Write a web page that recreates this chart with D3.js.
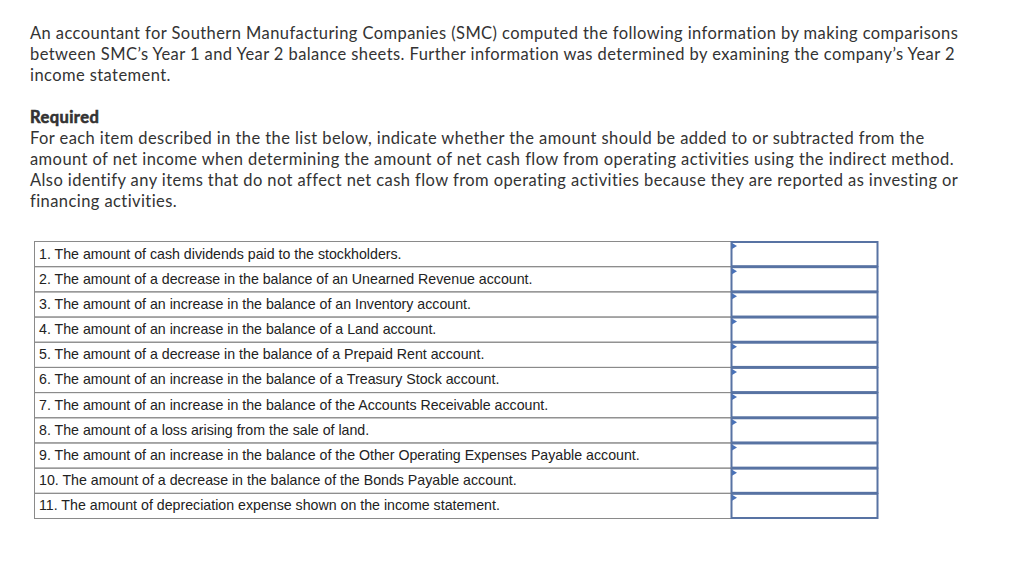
<!DOCTYPE html>
<html><head><meta charset="utf-8">
<script src="https://cdn.jsdelivr.net/npm/d3@7"></script>
<style>body{margin:0;background:#fff}</style>
</head><body><svg id="c" width="1024" height="563"></svg>
<script>
const introLines = [
  "An accountant for Southern Manufacturing Companies (SMC) computed the following information by making comparisons",
  "between SMC\u2019s Year 1 and Year 2 balance sheets. Further information was determined by examining the company\u2019s Year 2",
  "income statement."
];
const requiredTitle = "Required";
const requiredLines = [
  "For each item described in the the list below, indicate whether the amount should be added to or subtracted from the",
  "amount of net income when determining the amount of net cash flow from operating activities using the indirect method.",
  "Also identify any items that do not affect net cash flow from operating activities because they are reported as investing or",
  "financing activities."
];
const items = [
  "1. The amount of cash dividends paid to the stockholders.",
  "2. The amount of a decrease in the balance of an Unearned Revenue account.",
  "3. The amount of an increase in the balance of an Inventory account.",
  "4. The amount of an increase in the balance of a Land account.",
  "5. The amount of a decrease in the balance of a Prepaid Rent account.",
  "6. The amount of an increase in the balance of a Treasury Stock account.",
  "7. The amount of an increase in the balance of the Accounts Receivable account.",
  "8. The amount of a loss arising from the sale of land.",
  "9. The amount of an increase in the balance of the Other Operating Expenses Payable account.",
  "10. The amount of a decrease in the balance of the Bonds Payable account.",
  "11. The amount of depreciation expense shown on the income statement."
];

const svg = d3.select("#c");
const textFont = "Lato, 'Open Sans', sans-serif";
const textColor = "#333";
const fs = 16.5, ls = 0.42;

svg.append("g").selectAll("text").data(introLines).join("text")
  .attr("x", 30).attr("y", (d,i)=>39 + i*21)
  .attr("font-family", textFont).attr("font-size", fs).attr("letter-spacing", ls).attr("fill", textColor)
  .text(d=>d);

svg.append("text").attr("x", 30).attr("y", 123)
  .attr("font-family", textFont).attr("font-size", fs).attr("letter-spacing", ls).attr("font-weight", "bold")
  .attr("fill", textColor).attr("stroke", textColor).attr("stroke-width", 0.6)
  .text(requiredTitle);

svg.append("g").selectAll("text").data(requiredLines).join("text")
  .attr("x", 30).attr("y", (d,i)=>144 + i*21)
  .attr("font-family", textFont).attr("font-size", fs).attr("letter-spacing", ls).attr("fill", textColor)
  .text(d=>d);

// table
const y = d3.scaleBand().domain(items.map((d,i)=>i)).range([241, 518]);
const x0 = 34, x1 = 731, x2 = 878;
const tg = svg.append("g");
const rows = tg.selectAll("g").data(items).join("g")
  .attr("transform", (d,i)=>`translate(0,${y(i)})`);

rows.append("rect").attr("x", x0+0.5).attr("y", 0.5).attr("width", x1-x0).attr("height", y.bandwidth())
  .attr("fill", "none").attr("stroke", "#8a8a8a").attr("stroke-width", 1);
rows.append("text").attr("x", x0+5).attr("y", y.bandwidth()/2 + 5)
  .attr("font-family", "'Liberation Sans', Arial, sans-serif").attr("font-size", 14.2).attr("fill", "#222")
  .text(d=>d);
// answer box
rows.append("rect").attr("x", x1+0.5).attr("y", 1).attr("width", x2-x1-1).attr("height", y.bandwidth()-1)
  .attr("fill", "#fff").attr("stroke", "#5873a3").attr("stroke-width", 2);
rows.append("path").attr("d", `M${x1+1},2 L${x1+6},5 L${x1+1},8 Z`).attr("fill", "#4a72b8");
</script></body></html>
